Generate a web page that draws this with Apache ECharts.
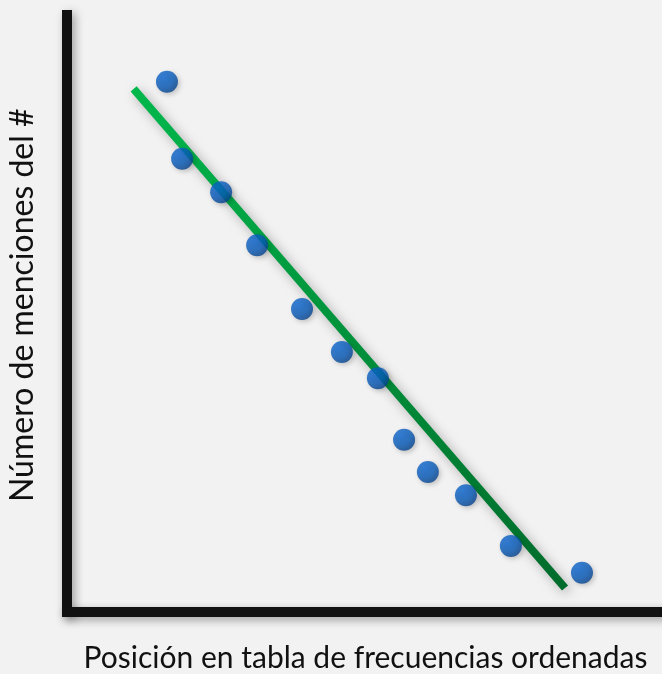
<!DOCTYPE html>
<html>
<head>
<meta charset="utf-8">
<script src="https://cdn.jsdelivr.net/npm/echarts@6/dist/echarts.min.js"></script>
<style>
html,body{margin:0;padding:0;background:#f2f2f2;}
#chart{width:662px;height:674px;}
</style>
</head>
<body>
<div id="chart"></div>
<script>
// Rank position (x) and number of mentions (y), arbitrary units
const positions = [3.36, 3.87, 5.18, 6.39, 7.90, 9.24, 10.45, 11.33, 12.13, 13.41, 14.92, 17.31];
const mentions  = [88.8, 75.9, 70.3, 61.4, 50.7, 43.5, 39.1, 28.8, 23.4, 19.5, 11.0, 6.5];
// Trend line endpoints
const trendX = [2.24, 16.74];
const trendY = [87.6, 3.94];
const xTitle = 'Posición en tabla de frecuencias ordenadas';
const yTitle = 'Número de menciones del #';

const points = positions.map((x, i) => [x, mentions[i]]);
const trend = trendX.map((x, i) => [x, trendY[i]]);

const axisLineStyle = {
  color: '#111111', width: 10, cap: 'square',
  shadowColor: 'rgba(0,0,0,0.35)', shadowBlur: 10, shadowOffsetX: 3, shadowOffsetY: 3
};
const font = 'Lato, "Open Sans", sans-serif';

const chart = echarts.init(document.getElementById('chart'));
chart.setOption({
  backgroundColor: '#f2f2f2',
  animation: false,
  grid: { left: 67, right: 0, top: 15, bottom: 62.5, outerBoundsMode: 'none', containLabel: false },
  xAxis: {
    type: 'value', min: 0, max: 20,
    axisLine: { show: true, lineStyle: axisLineStyle },
    axisTick: { show: false }, axisLabel: { show: false }, splitLine: { show: false },
    name: xTitle, nameLocation: 'middle', nameGap: 32,
    nameTextStyle: { fontFamily: font, fontSize: 30, color: '#111', padding: [0, 0, 0, 2] }
  },
  yAxis: {
    type: 'value', min: 0, max: 100,
    axisLine: { show: true, lineStyle: axisLineStyle },
    axisTick: { show: false }, axisLabel: { show: false }, splitLine: { show: false },
    name: yTitle, nameLocation: 'middle', nameGap: 28,
    nameTextStyle: { fontFamily: font, fontSize: 32, color: '#111', padding: [0, 0, 0, 16] }
  },
  series: [
    {
      type: 'line', data: trend, symbol: 'none', z: 2,
      lineStyle: {
        width: 8, cap: 'butt',
        color: new echarts.graphic.LinearGradient(0, 0, 1, 1, [
          { offset: 0, color: '#00b84c' },
          { offset: 1, color: '#006b2b' }
        ]),
        shadowColor: 'rgba(0,0,0,0.3)', shadowBlur: 12, shadowOffsetX: 3, shadowOffsetY: 3
      }
    },
    {
      type: 'scatter', data: points, symbolSize: 22, z: 3,
      itemStyle: {
        color: new echarts.graphic.RadialGradient(0.35, 0.3, 0.75, [
          { offset: 0, color: '#0b66d2' },
          { offset: 0.6, color: '#075ab8' },
          { offset: 1, color: '#05418a' }
        ]),
        shadowColor: 'rgba(0,0,0,0.25)', shadowBlur: 5, shadowOffsetX: 2, shadowOffsetY: 2
      }
    }
  ]
});
</script>
</body>
</html>
